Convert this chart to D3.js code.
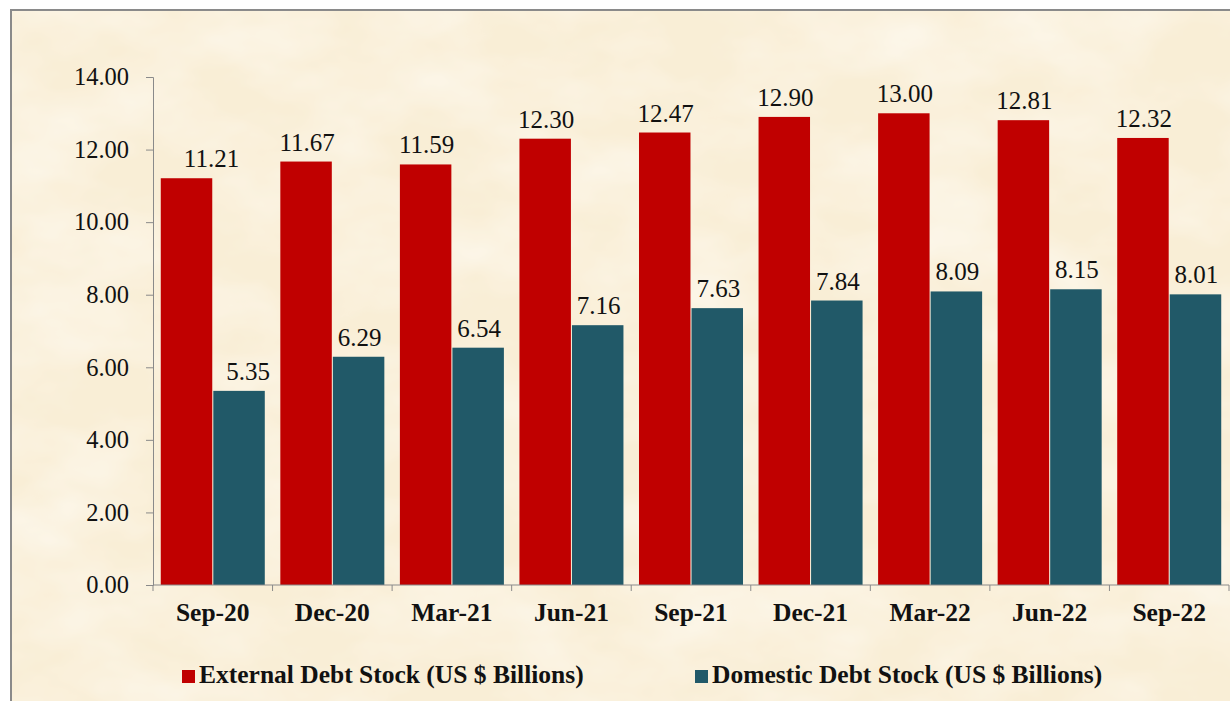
<!DOCTYPE html>
<html>
<head>
<meta charset="utf-8">
<script src="https://cdn.jsdelivr.net/npm/d3@7"></script>
<style>
  html, body { margin: 0; padding: 0; background: #fff; }
  svg { display: block; }
  svg text { font-family: "Liberation Serif", "Times New Roman", Times, serif; fill: #111; }
</style>
</head>
<body>
<div id="chart"></div>
<script>
const quarters = ["Sep-20", "Dec-20", "Mar-21", "Jun-21", "Sep-21", "Dec-21", "Mar-22", "Jun-22", "Sep-22"];
const externalDebt = [11.21, 11.67, 11.59, 12.30, 12.47, 12.90, 13.00, 12.81, 12.32];
const domesticDebt = [5.35, 6.29, 6.54, 7.16, 7.63, 7.84, 8.09, 8.15, 8.01];
const seriesNames = ["External Debt Stock (US $ Billions)", "Domestic Debt Stock (US $ Billions)"];
const yTicks = [0, 2, 4, 6, 8, 10, 12, 14];

const width = 1230, height = 701;
const colors = ["#c00000", "#215968"];

const svg = d3.select("#chart").append("svg")
    .attr("width", width)
    .attr("height", height);

// parchment-ish background texture
const defs = svg.append("defs");
const f = defs.append("filter").attr("id", "paper")
    .attr("x", 0).attr("y", 0).attr("width", "100%").attr("height", "100%");
f.append("feTurbulence")
    .attr("type", "fractalNoise")
    .attr("baseFrequency", "0.008 0.014")
    .attr("numOctaves", 4)
    .attr("seed", 7)
    .attr("result", "noise");
f.append("feColorMatrix")
    .attr("in", "noise")
    .attr("type", "matrix")
    .attr("values", "0 0 0 0 1  0 0 0 0 0.99  0 0 0 0 0.96  1.0 0 0 0 -0.35");

svg.append("rect")
    .attr("x", 11).attr("y", 10)
    .attr("width", width).attr("height", height)
    .attr("fill", "#f9eed6");
svg.append("rect")
    .attr("x", 11).attr("y", 10)
    .attr("width", width).attr("height", height)
    .attr("filter", "url(#paper)");
svg.append("rect")
    .attr("x", 11).attr("y", 10)
    .attr("width", width + 10).attr("height", height + 10)
    .attr("fill", "none")
    .attr("stroke", "#8a8a8a")
    .attr("stroke-width", 2);

const x = d3.scaleBand()
    .domain(quarters)
    .range([153, 1229])
    .paddingInner(0.13)
    .paddingOuter(0.065);

const xSub = d3.scaleBand()
    .domain([0, 1])
    .range([0, x.bandwidth()])
    .paddingInner(0.02);

const y = d3.scaleLinear()
    .domain([0, 14])
    .range([585, 77]);

// bars
const groups = svg.append("g")
    .selectAll("g")
    .data(quarters)
    .join("g")
    .attr("transform", d => `translate(${x(d)},0)`);

const series = [externalDebt, domesticDebt];
// first group's labels sit nudged right in the original
const firstNudge = [25, 9];

series.forEach((vals, si) => {
    groups.append("rect")
        .attr("x", xSub(si))
        .attr("width", xSub.bandwidth())
        .attr("y", (d, i) => y(vals[i]))
        .attr("height", (d, i) => y(0) - y(vals[i]))
        .attr("fill", colors[si]);

    groups.append("text")
        .attr("x", (d, i) => xSub(si) + xSub.bandwidth() / 2 + (i === 0 ? firstNudge[si] : 1))
        .attr("y", (d, i) => y(vals[i]) - 11)
        .attr("text-anchor", "middle")
        .style("font-size", "25px")
        .text((d, i) => vals[i].toFixed(2));
});

// y axis
const yAxis = svg.append("g")
    .attr("transform", "translate(153,0)")
    .call(d3.axisLeft(y).tickValues(yTicks).tickSize(7).tickPadding(17).tickFormat(d => d.toFixed(2)));
yAxis.attr("font-family", null).attr("font-size", null);
yAxis.select(".domain").attr("stroke", "#8a8a8a");
yAxis.selectAll(".tick line").attr("stroke", "#8a8a8a");
yAxis.selectAll(".tick text")
    .attr("fill", null)
    .style("font-size", "24.5px");

// x axis with ticks between categories
const step = x.step();
const boundaries = quarters.map(q => x(q) - step * 0.065).concat([x(quarters[quarters.length - 1]) + x.bandwidth() + step * 0.065]);
const xAxis = svg.append("g");
xAxis.append("line")
    .attr("x1", 153).attr("x2", 1229)
    .attr("y1", y(0)).attr("y2", y(0))
    .attr("stroke", "#8a8a8a");
xAxis.selectAll("line.tk")
    .data(boundaries)
    .join("line")
    .attr("class", "tk")
    .attr("x1", d => d).attr("x2", d => d)
    .attr("y1", y(0)).attr("y2", y(0) + 6)
    .attr("stroke", "#8a8a8a");
xAxis.selectAll("text")
    .data(quarters)
    .join("text")
    .attr("x", d => x(d) + x.bandwidth() / 2)
    .attr("y", 621)
    .attr("text-anchor", "middle")
    .style("font-weight", "bold")
    .style("font-size", "25.5px")
    .text(d => d);

// legend
const legendX = [182, 695];
const legend = svg.append("g")
    .selectAll("g")
    .data(seriesNames)
    .join("g")
    .attr("transform", (d, i) => `translate(${legendX[i]},683)`);
legend.append("rect")
    .attr("x", 0).attr("y", -13)
    .attr("width", 13).attr("height", 13)
    .attr("fill", (d, i) => colors[i]);
legend.append("text")
    .attr("x", 17)
    .attr("y", 0)
    .style("font-weight", "bold")
    .style("font-size", "25.5px")
    .text(d => d);
</script>
</body>
</html>
